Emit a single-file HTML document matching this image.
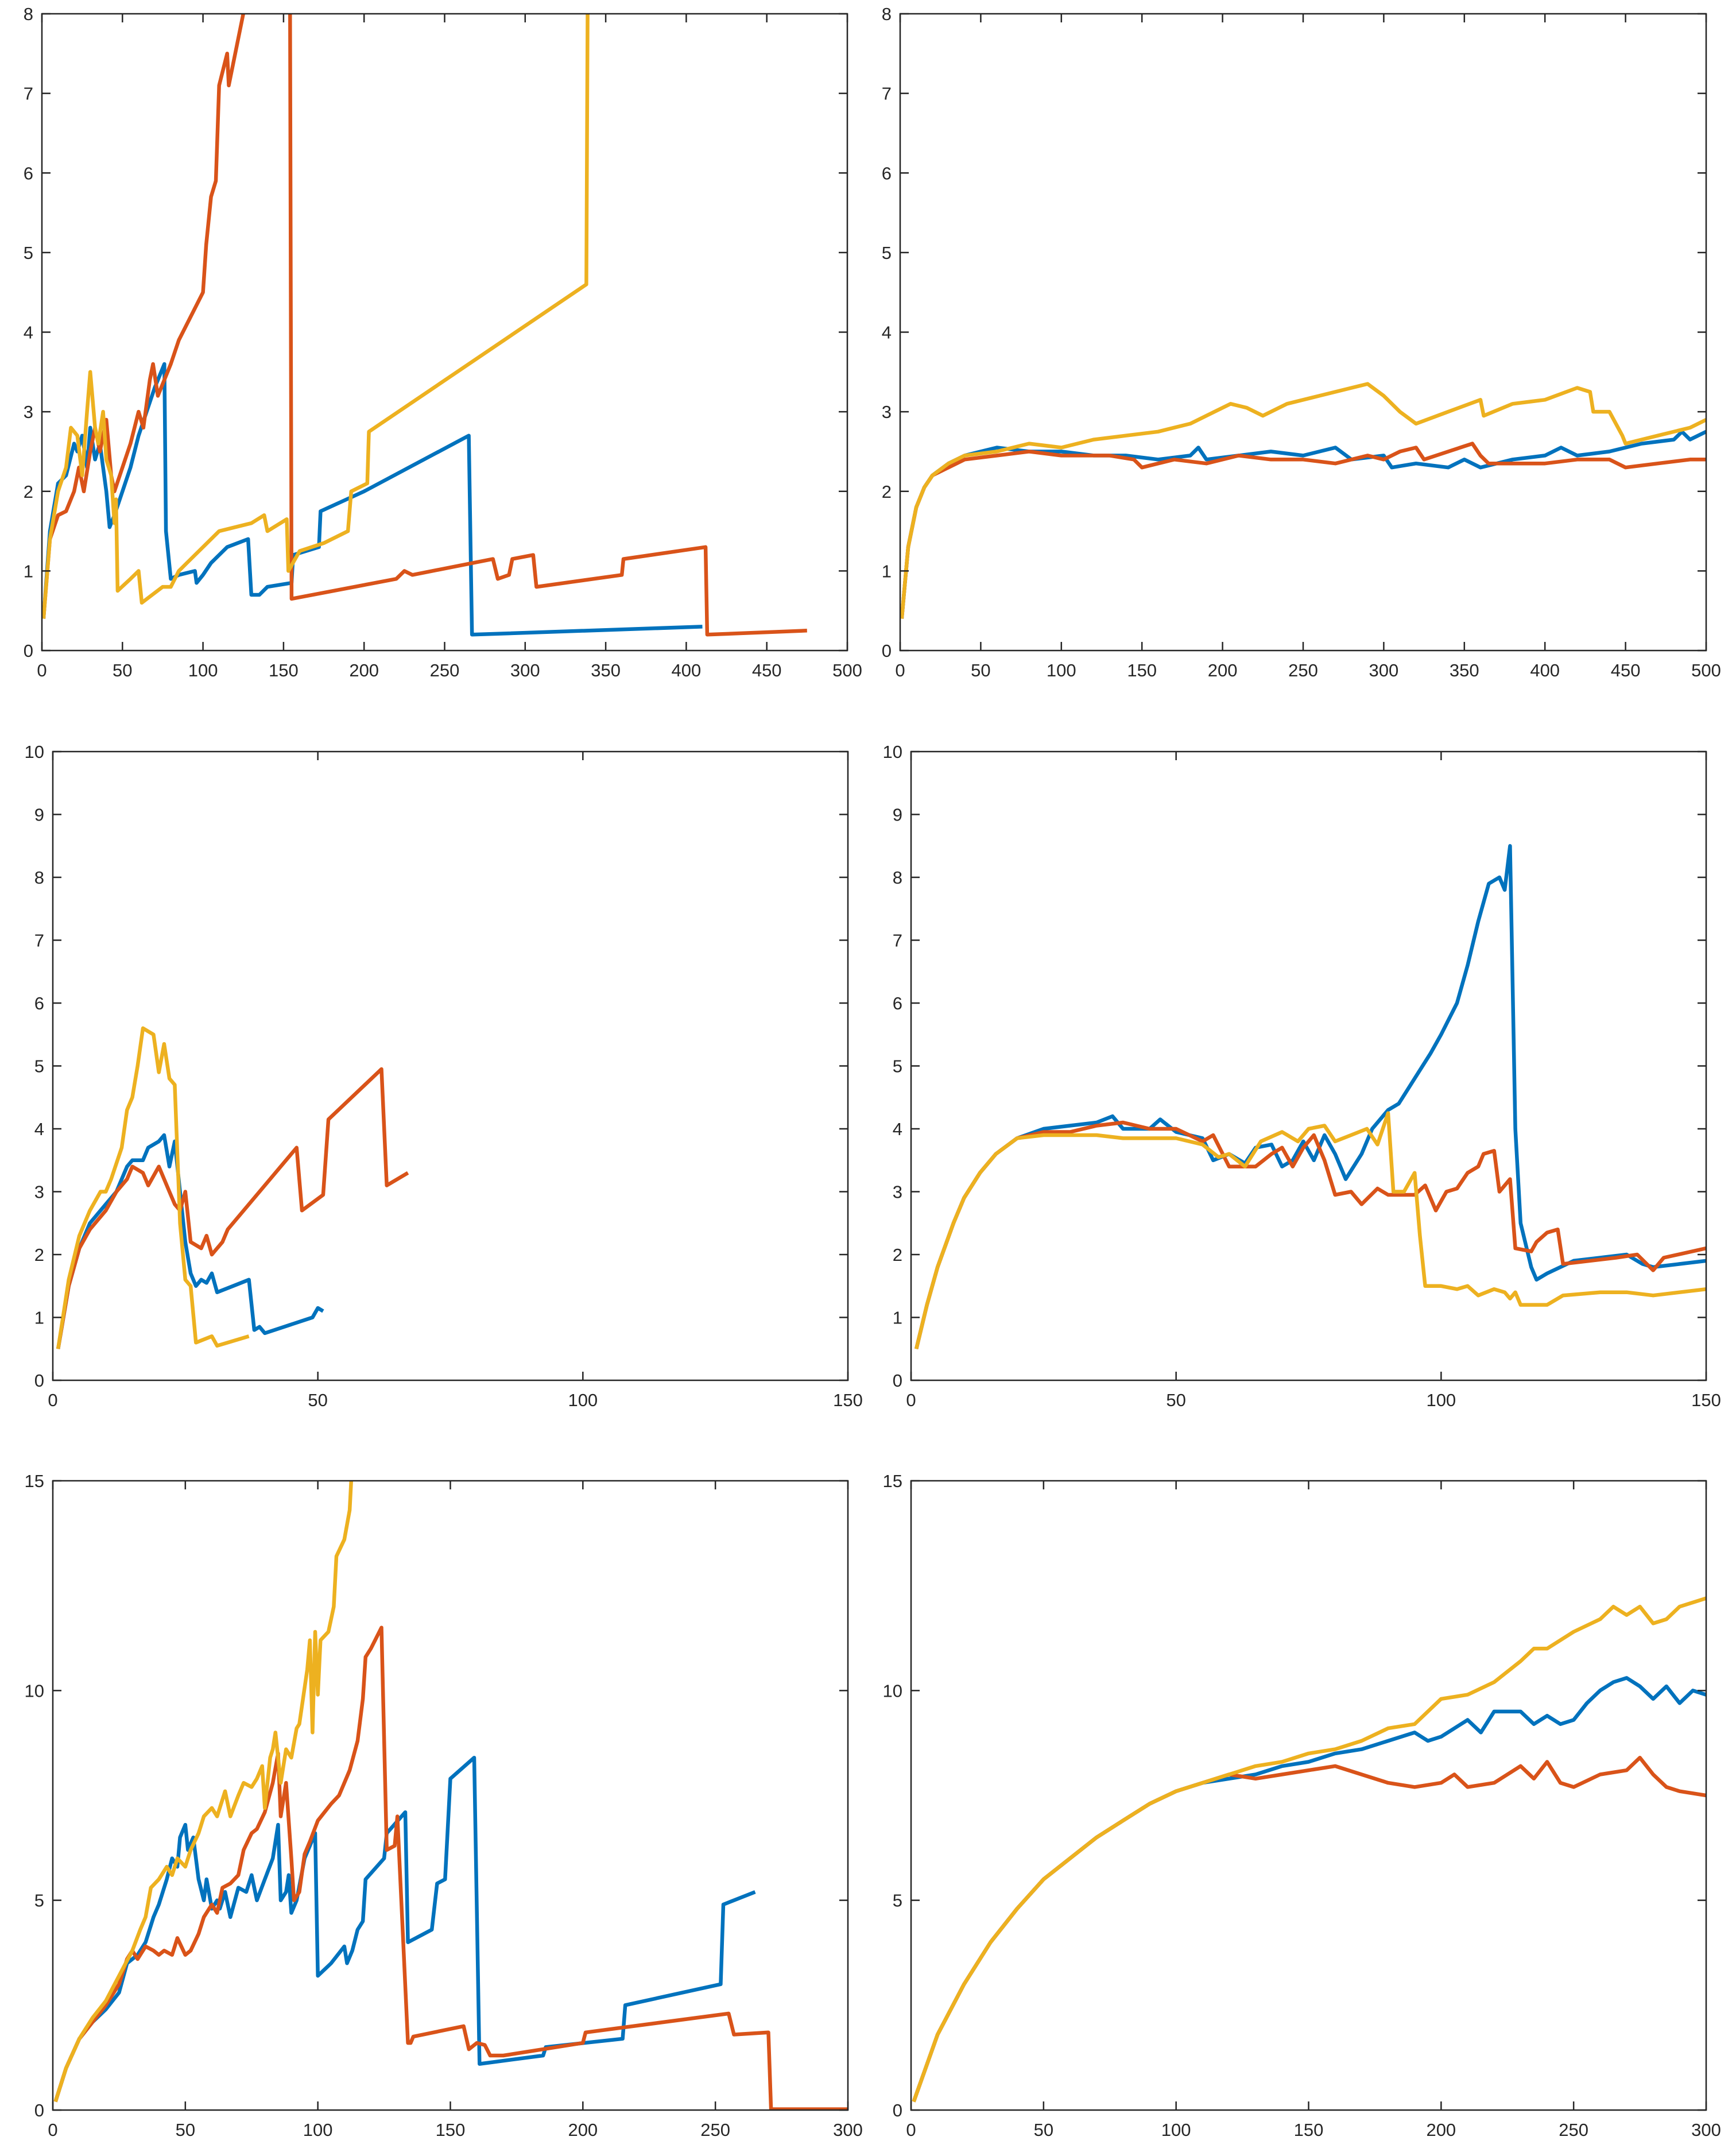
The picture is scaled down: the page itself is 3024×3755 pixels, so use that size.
<!DOCTYPE html>
<html><head><meta charset="utf-8"><style>
html,body{margin:0;padding:0;background:#fff}
svg{display:block}
text{font-family:"Liberation Sans",sans-serif;font-size:31px;fill:#262626}
</style></head><body>
<svg id="fig" width="3024" height="3755" viewBox="0 0 3024 3755" xmlns="http://www.w3.org/2000/svg"></svg>
<script>
// ---- data (x,y pairs per series) ----
const p1Blue=[[1,0.4],[5,1.5],[10,2.1],[15,2.2],[20,2.6],[22,2.5],[25,2.7],[28,2.3],[30,2.8],[33,2.4],[36,2.6],[40,2.0],[42,1.55],[45,1.7],[50,2.0],[55,2.3],[60,2.7],[65,3.0],[70,3.3],[76,3.6],[77,1.5],[80,0.9],[85,0.95],[95,1.0],[96,0.85],[100,0.95],[105,1.1],[115,1.3],[128,1.4],[130,0.7],[135,0.7],[140,0.8],[155,0.85],[156,1.2],[172,1.3],[173,1.75],[200,2.0],[265,2.7],[267,0.2],[410,0.3]];
const p1Orange=[[1,0.4],[5,1.4],[10,1.7],[15,1.75],[20,2.0],[23,2.3],[26,2.0],[30,2.5],[33,2.8],[36,2.5],[40,2.9],[43,2.2],[45,2.0],[50,2.3],[55,2.6],[60,3.0],[63,2.8],[67,3.4],[69,3.6],[72,3.2],[80,3.6],[85,3.9],[100,4.5],[102,5.1],[105,5.7],[108,5.9],[110,7.1],[115,7.5],[116,7.1],[130,8.5],[154,8.5],[155,0.65],[220,0.9],[225,1.0],[230,0.95],[280,1.15],[283,0.9],[290,0.95],[292,1.15],[305,1.2],[307,0.8],[360,0.95],[361,1.15],[412,1.3],[413,0.2],[475,0.25]];
const p1Yellow=[[1,0.4],[5,1.4],[10,2.0],[15,2.3],[18,2.8],[22,2.7],[25,2.2],[28,3.0],[30,3.5],[33,2.8],[35,2.6],[38,3.0],[40,2.4],[43,2.2],[45,1.6],[46,1.9],[47,0.75],[55,0.9],[60,1.0],[62,0.6],[75,0.8],[80,0.8],[85,1.0],[90,1.1],[100,1.3],[110,1.5],[130,1.6],[138,1.7],[140,1.5],[152,1.65],[153,1.0],[160,1.25],[175,1.35],[190,1.5],[192,2.0],[202,2.1],[203,2.75],[338,4.6],[339,9]];

const p2Blue=[[1,0.4],[5,1.3],[10,1.8],[15,2.05],[20,2.2],[30,2.35],[40,2.45],[50,2.5],[60,2.55],[80,2.5],[100,2.5],[120,2.45],[140,2.45],[160,2.4],[180,2.45],[185,2.55],[190,2.4],[210,2.45],[230,2.5],[250,2.45],[270,2.55],[280,2.4],[300,2.45],[305,2.3],[320,2.35],[340,2.3],[350,2.4],[360,2.3],[380,2.4],[400,2.45],[410,2.55],[420,2.45],[440,2.5],[460,2.6],[480,2.65],[485,2.75],[490,2.65],[500,2.75]];
const p2Orange=[[1,0.4],[5,1.3],[10,1.8],[15,2.05],[20,2.2],[30,2.3],[40,2.4],[60,2.45],[80,2.5],[100,2.45],[130,2.45],[145,2.4],[150,2.3],[170,2.4],[190,2.35],[210,2.45],[230,2.4],[250,2.4],[270,2.35],[290,2.45],[300,2.4],[310,2.5],[320,2.55],[325,2.4],[340,2.5],[355,2.6],[360,2.45],[365,2.35],[380,2.35],[400,2.35],[420,2.4],[440,2.4],[450,2.3],[470,2.35],[490,2.4],[500,2.4]];
const p2Yellow=[[1,0.4],[5,1.3],[10,1.8],[15,2.05],[20,2.2],[30,2.35],[40,2.45],[60,2.5],[80,2.6],[100,2.55],[120,2.65],[140,2.7],[160,2.75],[180,2.85],[195,3.0],[205,3.1],[215,3.05],[225,2.95],[240,3.1],[260,3.2],[280,3.3],[290,3.35],[300,3.2],[310,3.0],[320,2.85],[340,3.0],[360,3.15],[362,2.95],[380,3.1],[400,3.15],[420,3.3],[428,3.25],[430,3.0],[440,3.0],[448,2.7],[450,2.6],[470,2.7],[490,2.8],[500,2.9]];

const p3Blue=[[1,0.5],[3,1.5],[5,2.1],[7,2.5],[10,2.8],[12,3.0],[14,3.4],[15,3.5],[17,3.5],[18,3.7],[20,3.8],[21,3.9],[22,3.4],[23,3.8],[24,3.0],[25,2.2],[26,1.7],[27,1.5],[28,1.6],[29,1.55],[30,1.7],[31,1.4],[34,1.5],[37,1.6],[38,0.8],[39,0.85],[40,0.75],[49,1.0],[50,1.15],[51,1.1]];
const p3Orange=[[1,0.5],[3,1.5],[5,2.1],[7,2.4],[10,2.7],[12,3.0],[14,3.2],[15,3.4],[17,3.3],[18,3.1],[20,3.4],[22,3.0],[23,2.8],[24,2.7],[25,3.0],[26,2.2],[28,2.1],[29,2.3],[30,2.0],[32,2.2],[33,2.4],[46,3.7],[47,2.7],[51,2.95],[52,4.15],[62,4.95],[63,3.1],[67,3.3]];
const p3Yellow=[[1,0.5],[3,1.6],[5,2.3],[7,2.7],[9,3.0],[10,3.0],[11,3.2],[13,3.7],[14,4.3],[15,4.5],[16,5.0],[17,5.6],[19,5.5],[20,4.9],[21,5.35],[22,4.8],[23,4.7],[24,2.5],[25,1.6],[26,1.5],[27,0.6],[30,0.7],[31,0.55],[37,0.7]];

const p4Blue=[[1,0.5],[3,1.2],[5,1.8],[8,2.5],[10,2.9],[13,3.3],[16,3.6],[20,3.85],[25,4.0],[30,4.05],[35,4.1],[38,4.2],[40,4.0],[45,4.0],[47,4.15],[50,3.95],[55,3.85],[57,3.5],[60,3.6],[63,3.45],[65,3.7],[68,3.75],[70,3.4],[72,3.5],[74,3.8],[76,3.5],[78,3.9],[80,3.6],[82,3.2],[85,3.6],[87,4.0],[90,4.3],[92,4.4],[95,4.8],[98,5.2],[100,5.5],[103,6.0],[105,6.6],[107,7.3],[109,7.9],[111,8.0],[112,7.8],[113,8.5],[114,4.0],[115,2.5],[117,1.8],[118,1.6],[120,1.7],[125,1.9],[130,1.95],[135,2.0],[138,1.85],[140,1.8],[145,1.85],[150,1.9]];
const p4Orange=[[1,0.5],[3,1.2],[5,1.8],[8,2.5],[10,2.9],[13,3.3],[16,3.6],[20,3.85],[25,3.95],[30,3.95],[35,4.05],[40,4.1],[45,4.0],[50,4.0],[55,3.8],[57,3.9],[60,3.4],[65,3.4],[68,3.6],[70,3.7],[72,3.4],[74,3.7],[76,3.9],[78,3.5],[80,2.95],[83,3.0],[85,2.8],[88,3.05],[90,2.95],[95,2.95],[97,3.1],[99,2.7],[101,3.0],[103,3.05],[105,3.3],[107,3.4],[108,3.6],[110,3.65],[111,3.0],[113,3.2],[114,2.1],[117,2.05],[118,2.2],[120,2.35],[122,2.4],[123,1.85],[133,1.95],[137,2.0],[140,1.75],[142,1.95],[150,2.1]];
const p4Yellow=[[1,0.5],[3,1.2],[5,1.8],[8,2.5],[10,2.9],[13,3.3],[16,3.6],[20,3.85],[25,3.9],[30,3.9],[35,3.9],[40,3.85],[45,3.85],[50,3.85],[55,3.75],[58,3.55],[60,3.6],[63,3.4],[66,3.8],[70,3.95],[73,3.8],[75,4.0],[78,4.05],[80,3.8],[83,3.9],[86,4.0],[88,3.75],[90,4.25],[91,3.0],[93,3.0],[95,3.3],[96,2.3],[97,1.5],[100,1.5],[103,1.45],[105,1.5],[107,1.35],[110,1.45],[112,1.4],[113,1.3],[114,1.4],[115,1.2],[120,1.2],[123,1.35],[130,1.4],[135,1.4],[140,1.35],[150,1.45]];

const p5Blue=[[1,0.2],[5,1.0],[10,1.7],[15,2.1],[20,2.4],[25,2.8],[28,3.5],[32,3.7],[35,4.0],[38,4.6],[40,4.9],[43,5.5],[45,6.0],[47,5.8],[48,6.5],[50,6.8],[51,6.2],[53,6.5],[55,5.5],[57,5.0],[58,5.5],[60,4.8],[62,5.0],[63,4.8],[65,5.2],[67,4.6],[70,5.3],[73,5.2],[75,5.6],[77,5.0],[80,5.5],[83,6.0],[85,6.8],[86,5.0],[88,5.2],[89,5.6],[90,4.7],[92,5.0],[95,6.0],[97,6.3],[99,6.6],[100,3.2],[105,3.5],[110,3.9],[111,3.5],[113,3.8],[115,4.3],[117,4.5],[118,5.5],[125,6.0],[126,6.6],[133,7.1],[134,4.0],[140,4.2],[143,4.3],[145,5.4],[148,5.5],[150,7.9],[159,8.4],[161,1.1],[185,1.3],[186,1.5],[215,1.7],[216,2.5],[252,3.0],[253,4.9],[265,5.2]];
const p5Orange=[[1,0.2],[5,1.0],[10,1.7],[15,2.1],[20,2.5],[25,3.0],[28,3.6],[30,3.8],[32,3.6],[35,3.9],[38,3.8],[40,3.7],[42,3.8],[45,3.7],[47,4.1],[50,3.7],[52,3.8],[55,4.2],[57,4.6],[60,4.9],[62,4.7],[64,5.3],[67,5.4],[70,5.6],[72,6.2],[75,6.6],[77,6.7],[80,7.1],[83,7.8],[85,8.5],[86,7.0],[88,7.8],[90,6.0],[91,5.0],[93,5.2],[95,6.1],[97,6.4],[100,6.9],[105,7.3],[108,7.5],[112,8.1],[115,8.8],[117,9.8],[118,10.8],[120,11.0],[124,11.5],[126,6.2],[129,6.3],[130,7.0],[134,1.6],[135,1.6],[136,1.75],[155,2.0],[157,1.45],[160,1.6],[163,1.55],[165,1.3],[170,1.3],[200,1.6],[201,1.85],[255,2.3],[257,1.8],[270,1.85],[271,0.02],[300,0.02]];
const p5Yellow=[[1,0.2],[5,1.0],[10,1.7],[15,2.2],[20,2.6],[25,3.2],[30,3.8],[33,4.3],[35,4.6],[37,5.3],[40,5.5],[43,5.8],[45,5.6],[47,6.0],[50,5.8],[52,6.2],[55,6.6],[57,7.0],[60,7.2],[62,7.0],[65,7.6],[67,7.0],[70,7.5],[72,7.8],[75,7.7],[77,7.9],[79,8.2],[80,7.2],[82,8.4],[83,8.6],[84,9.0],[86,7.8],[88,8.6],[90,8.4],[92,9.1],[93,9.2],[96,10.5],[97,11.2],[98,9.0],[99,11.4],[100,9.9],[101,11.2],[104,11.4],[106,12.0],[107,13.2],[110,13.6],[112,14.3],[113,15.5]];

const p6Blue=[[1,0.2],[10,1.8],[20,3.0],[30,4.0],[40,4.8],[50,5.5],[60,6.0],[70,6.5],[80,6.9],[90,7.3],[100,7.6],[110,7.8],[120,7.9],[130,8.0],[140,8.2],[150,8.3],[160,8.5],[170,8.6],[180,8.8],[190,9.0],[195,8.8],[200,8.9],[210,9.3],[215,9.0],[220,9.5],[230,9.5],[235,9.2],[240,9.4],[245,9.2],[250,9.3],[255,9.7],[260,10.0],[265,10.2],[270,10.3],[275,10.1],[280,9.8],[285,10.1],[290,9.7],[295,10.0],[300,9.9]];
const p6Orange=[[1,0.2],[10,1.8],[20,3.0],[30,4.0],[40,4.8],[50,5.5],[60,6.0],[70,6.5],[80,6.9],[90,7.3],[100,7.6],[110,7.8],[120,8.0],[130,7.9],[140,8.0],[150,8.1],[160,8.2],[170,8.0],[180,7.8],[190,7.7],[200,7.8],[205,8.0],[210,7.7],[220,7.8],[230,8.2],[235,7.9],[240,8.3],[245,7.8],[250,7.7],[260,8.0],[270,8.1],[275,8.4],[280,8.0],[285,7.7],[290,7.6],[300,7.5]];
const p6Yellow=[[1,0.2],[10,1.8],[20,3.0],[30,4.0],[40,4.8],[50,5.5],[60,6.0],[70,6.5],[80,6.9],[90,7.3],[100,7.6],[110,7.8],[120,8.0],[130,8.2],[140,8.3],[150,8.5],[160,8.6],[170,8.8],[180,9.1],[190,9.2],[200,9.8],[210,9.9],[220,10.2],[230,10.7],[235,11.0],[240,11.0],[250,11.4],[260,11.7],[265,12.0],[270,11.8],[275,12.0],[280,11.6],[285,11.7],[290,12.0],[300,12.2]];

const xTicks500=[0,50,100,150,200,250,300,350,400,450,500];
const xTicks150=[0,50,100,150];
const xTicks300=[0,50,100,150,200,250,300];
const yTicks8=[0,1,2,3,4,5,6,7,8];
const yTicks10=[0,1,2,3,4,5,6,7,8,9,10];
const yTicks15=[0,5,10,15];

const NS='http://www.w3.org/2000/svg';
const svg=document.getElementById('fig');
const COLORS=['#0072BD','#D95319','#EDB120'];
const SNAMES=['blue','orange','yellow'];
let clipId=0;
function mk(tag,parent){const e=document.createElementNS(NS,tag);parent.appendChild(e);return e;}

function panel(name,L,T,R,B,xmax,ymax,xt,yt,series){
  const g=mk('g',svg);
  
  
  const sx=v=>L+(R-L)*v/xmax, sy=v=>B-(B-T)*v/ymax;
  const cid='c'+(clipId++);
  const cp=mk('clipPath',g);cp.setAttribute('id',cid);
  const cr=mk('rect',cp);cr.setAttribute('x',L);cr.setAttribute('y',T);cr.setAttribute('width',R-L);cr.setAttribute('height',B-T);
  const lg=mk('g',g);lg.setAttribute('clip-path','url(#'+cid+')');
  series.forEach((s,i)=>{
    const pl=mk('polyline',lg);
    
    
    pl.setAttribute('points',s.map(p=>sx(p[0]).toFixed(1)+','+sy(p[1]).toFixed(1)).join(' '));
    pl.setAttribute('fill','none');pl.setAttribute('stroke',COLORS[i]);
    pl.setAttribute('stroke-width','6.5');pl.setAttribute('stroke-linejoin','round');
  });
  const box=mk('rect',g);
  
  
  box.setAttribute('x',L);box.setAttribute('y',T);box.setAttribute('width',R-L);box.setAttribute('height',B-T);
  box.setAttribute('fill','none');box.setAttribute('stroke','#262626');box.setAttribute('stroke-width','2.5');
  let d='';
  xt.forEach(v=>{const x=sx(v);d+=`M${x},${B}v-15M${x},${T}v15`;
    const t=mk('text',g);
    
    
    t.setAttribute('x',x);t.setAttribute('y',B+45);t.setAttribute('text-anchor','middle');t.textContent=v;});
  yt.forEach(v=>{const y=sy(v);d+=`M${L},${y}h15M${R},${y}h-15`;
    const t=mk('text',g);
    
    
    t.setAttribute('x',L-15);t.setAttribute('y',y+11);t.setAttribute('text-anchor','end');t.textContent=v;});
  const tk=mk('path',g);
  
  
  tk.setAttribute('d',d);tk.setAttribute('stroke','#262626');tk.setAttribute('stroke-width','2.5');
}
panel('panel-top-left',73,24,1476,1133,500,8,xTicks500,yTicks8,[p1Blue,p1Orange,p1Yellow]);
panel('panel-top-right',1568,24,2972,1133,500,8,xTicks500,yTicks8,[p2Blue,p2Orange,p2Yellow]);
panel('panel-middle-left',92,1309,1477,2404,150,10,xTicks150,yTicks10,[p3Blue,p3Orange,p3Yellow]);
panel('panel-middle-right',1587,1309,2972,2404,150,10,xTicks150,yTicks10,[p4Blue,p4Orange,p4Yellow]);
panel('panel-bottom-left',92,2579,1477,3675,300,15,xTicks300,yTicks15,[p5Blue,p5Orange,p5Yellow]);
panel('panel-bottom-right',1587,2579,2972,3675,300,15,xTicks300,yTicks15,[p6Blue,p6Orange,p6Yellow]);
</script>
</body></html>
